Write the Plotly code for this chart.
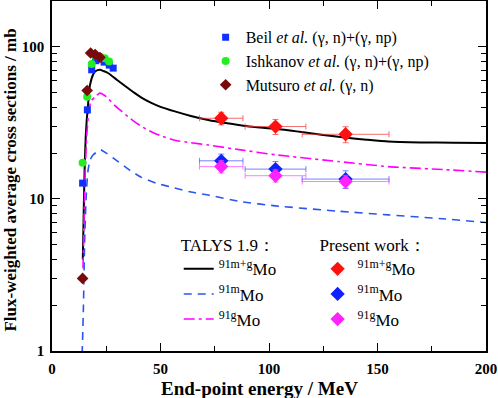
import plotly.graph_objects as go

# ---- TALYS 1.9 curves ----
talys_mg_E = [14.2, 14.6, 15.0, 15.5, 16.0, 17.0, 17.5, 19.0, 20.0, 22.0, 24.0, 26.0, 30.0, 34.0, 38.0, 42.0, 46.0, 50.0, 56.6, 64.0, 72.0, 80.0, 90.0, 103.0, 115.0, 125.0, 135.0, 145.0, 155.0, 170.0, 185.0, 200.0]
talys_mg_Y = [4.0, 8.0, 15.0, 25.0, 33.0, 48.0, 56.0, 66.0, 69.0, 70.6, 69.0, 67.0, 60.5, 54.8, 49.8, 45.6, 42.6, 40.3, 37.6, 35.1, 33.0, 31.5, 30.0, 28.9, 27.5, 26.3, 25.3, 24.5, 23.8, 23.5, 23.4, 23.3]

talys_m_E = [13.9, 14.5, 15.0, 15.7, 16.5, 17.5, 19.0, 21.0, 22.5, 25.0, 30.5, 36.0, 41.0, 48.0, 56.6, 64.0, 72.0, 87.0, 103.0, 132.0, 155.0, 180.0, 200.0]
talys_m_Y = [0.95, 2.0, 5.0, 10.0, 15.0, 18.0, 19.5, 20.5, 21.0, 20.0, 17.6, 15.4, 13.9, 12.7, 11.8, 11.1, 10.6, 9.6, 9.0, 8.3, 7.85, 7.4, 7.0]

talys_g_E = [14.3, 14.8, 15.3, 16.0, 17.0, 18.0, 20.0, 22.0, 25.0, 29.0, 34.0, 38.0, 42.0, 46.0, 50.0, 56.6, 64.0, 72.0, 87.0, 103.0, 132.0, 155.0, 180.0, 200.0]
talys_g_Y = [3.5, 8.0, 15.0, 26.0, 38.0, 44.0, 47.0, 49.6, 47.0, 41.0, 35.7, 32.2, 29.5, 27.5, 26.0, 24.3, 23.4, 22.6, 21.0, 19.5, 17.6, 16.3, 15.6, 15.0]

# ---- literature data ----
beil_E = [14.1, 16.3, 18.3, 20.1, 24.0, 26.4, 28.2]
beil_Y = [12.7, 38.5, 70.6, 81.0, 79.3, 75.8, 72.4]

ishk_E = [14.1, 16.2, 18.3, 20.1, 22.3, 24.3, 26.3]
ishk_Y = [17.3, 47.0, 77.0, 87.0, 86.0, 84.0, 80.0]

muts_E = [14.1, 16.2, 17.8, 19.9, 22.1]
muts_Y = [3.0, 51.6, 91.0, 89.0, 85.0]

# ---- present work ----
pw_E = [78.0, 103.0, 135.3]
pw_Ex = [10.0, 14.0, 20.0]
pw_mg = [33.9, 29.9, 26.6]
pw_mg_err = [3.2, 3.4, 3.2]
pw_m = [17.8, 15.7, 13.5]
pw_m_err = [1.9, 1.9, 1.8]
pw_g = [16.3, 14.2, 13.0]
pw_g_err = [1.5, 1.3, 1.2]

x_ticks = [0, 50, 100, 150, 200]
y_ticks = [1, 10, 100]

FONT = "Liberation Serif, Times New Roman, serif"

fig = go.Figure()

# TALYS lines (legend2)
fig.add_trace(go.Scatter(x=talys_mg_E, y=talys_mg_Y, mode="lines",
                         line=dict(color="black", width=2, shape="spline", smoothing=0.5),
                         name="<sup>91m+g</sup>Mo", legend="legend2"))
fig.add_trace(go.Scatter(x=talys_m_E, y=talys_m_Y, mode="lines",
                         line=dict(color="#2a55f0", width=1.6, dash="8px,6px", shape="spline", smoothing=0.5),
                         name="<sup>91m</sup>Mo", legend="legend2"))
fig.add_trace(go.Scatter(x=talys_g_E, y=talys_g_Y, mode="lines",
                         line=dict(color="#ff00ff", width=1.6, dash="11px,4px,3px,4px", shape="spline", smoothing=0.5),
                         name="<sup>91g</sup>Mo", legend="legend2"))

# literature (legend)
fig.add_trace(go.Scatter(x=beil_E, y=beil_Y, mode="markers",
                         marker=dict(symbol="square", size=7, color="#1030ff"),
                         name="Beil <i>et al.</i> (γ, n)+(γ, np)", legend="legend"))
fig.add_trace(go.Scatter(x=ishk_E, y=ishk_Y, mode="markers",
                         marker=dict(symbol="circle", size=8, color="#22ee22"),
                         name="Ishkanov <i>et al.</i> (γ, n)+(γ, np)", legend="legend"))
fig.add_trace(go.Scatter(x=muts_E, y=muts_Y, mode="markers",
                         marker=dict(symbol="diamond", size=9, color="#7a0a0a"),
                         name="Mutsuro <i>et al.</i> (γ, n)", legend="legend"))

# present work (legend3)
def pw_trace(y, err, col, ecol, name):
    return go.Scatter(x=pw_E, y=y, mode="markers",
                      marker=dict(symbol="diamond", size=11, color=col),
                      error_x=dict(type="data", array=pw_Ex, color=ecol, thickness=1, width=3),
                      error_y=dict(type="data", array=err, color=ecol, thickness=1, width=3),
                      name=name, legend="legend3")

fig.add_trace(pw_trace(pw_mg, pw_mg_err, "#ff1010", "rgba(240,60,60,0.75)", "<sup>91m+g</sup>Mo"))
fig.add_trace(pw_trace(pw_m, pw_m_err, "#1020ff", "rgba(70,90,255,0.75)", "<sup>91m</sup>Mo"))
fig.add_trace(pw_trace(pw_g, pw_g_err, "#ff22ff", "rgba(255,80,255,0.75)", "<sup>91g</sup>Mo"))

axis_common = dict(
    showline=True, linecolor="black", linewidth=1.6, mirror="ticks",
    ticks="inside", ticklen=8, tickwidth=1.4, tickcolor="black",
    showgrid=False, zeroline=False, automargin=False,
    tickfont=dict(family=FONT, size=15, color="black"),
)

fig.update_layout(
    width=498, height=398,
    margin=dict(l=52, r=12, t=1, b=47),
    paper_bgcolor="white", plot_bgcolor="white",
    font=dict(family=FONT, color="black"),
    xaxis=dict(range=[0, 200], tickvals=x_ticks,
               ticktext=["<b>%d</b>" % v for v in x_ticks], ticklabelstandoff=3,
               minor=dict(tickvals=[25, 75, 125, 175], ticks="inside", ticklen=5,
                          tickwidth=1.2, tickcolor="black", showgrid=False),
               **axis_common),
    yaxis=dict(type="log", range=[0, 2.30103], tickvals=y_ticks,
               ticktext=["<b>%d</b>" % v for v in y_ticks], ticklabelstandoff=3,
               minor=dict(tickvals=[2, 3, 4, 5, 6, 7, 8, 9, 20, 30, 40, 50, 60, 70, 80, 90, 200],
                          ticks="inside", ticklen=5, tickwidth=1.2, tickcolor="black",
                          showgrid=False),
               **axis_common),
    legend=dict(x=0.354, y=0.945, xanchor="left", yanchor="top",
                bgcolor="rgba(0,0,0,0)", font=dict(family=FONT, size=16, color="black"),
                tracegroupgap=0, itemsizing="trace"),
    legend2=dict(x=0.292, y=0.348, xanchor="left", yanchor="top",
                 bgcolor="rgba(0,0,0,0)", font=dict(family=FONT, size=17, color="black"),
                 title=dict(text="TALYS 1.9：", font=dict(family=FONT, size=17, color="black")),
                 itemsizing="trace"),
    legend3=dict(x=0.612, y=0.348, xanchor="left", yanchor="top",
                 bgcolor="rgba(0,0,0,0)", font=dict(family=FONT, size=17, color="black"),
                 title=dict(text="Present work：", font=dict(family=FONT, size=17, color="black")),
                 itemsizing="trace"),
    showlegend=True,
    annotations=[
        dict(text="<b>End-point energy / MeV</b>", xref="paper", yref="paper",
             x=0.478, y=-0.106, xanchor="center", yanchor="middle", showarrow=False,
             font=dict(family=FONT, size=19, color="black")),
        dict(text="<b>Flux-weighted average cross sections / mb</b>", xref="paper", yref="paper",
             x=-0.095, y=0.489, xanchor="center", yanchor="middle", showarrow=False,
             textangle=-90, font=dict(family=FONT, size=17, color="black")),
    ],
)

fig.write_html("out.html", config={"displayModeBar": False},
               post_script="document.body.style.margin='0';document.body.style.padding='0';")
